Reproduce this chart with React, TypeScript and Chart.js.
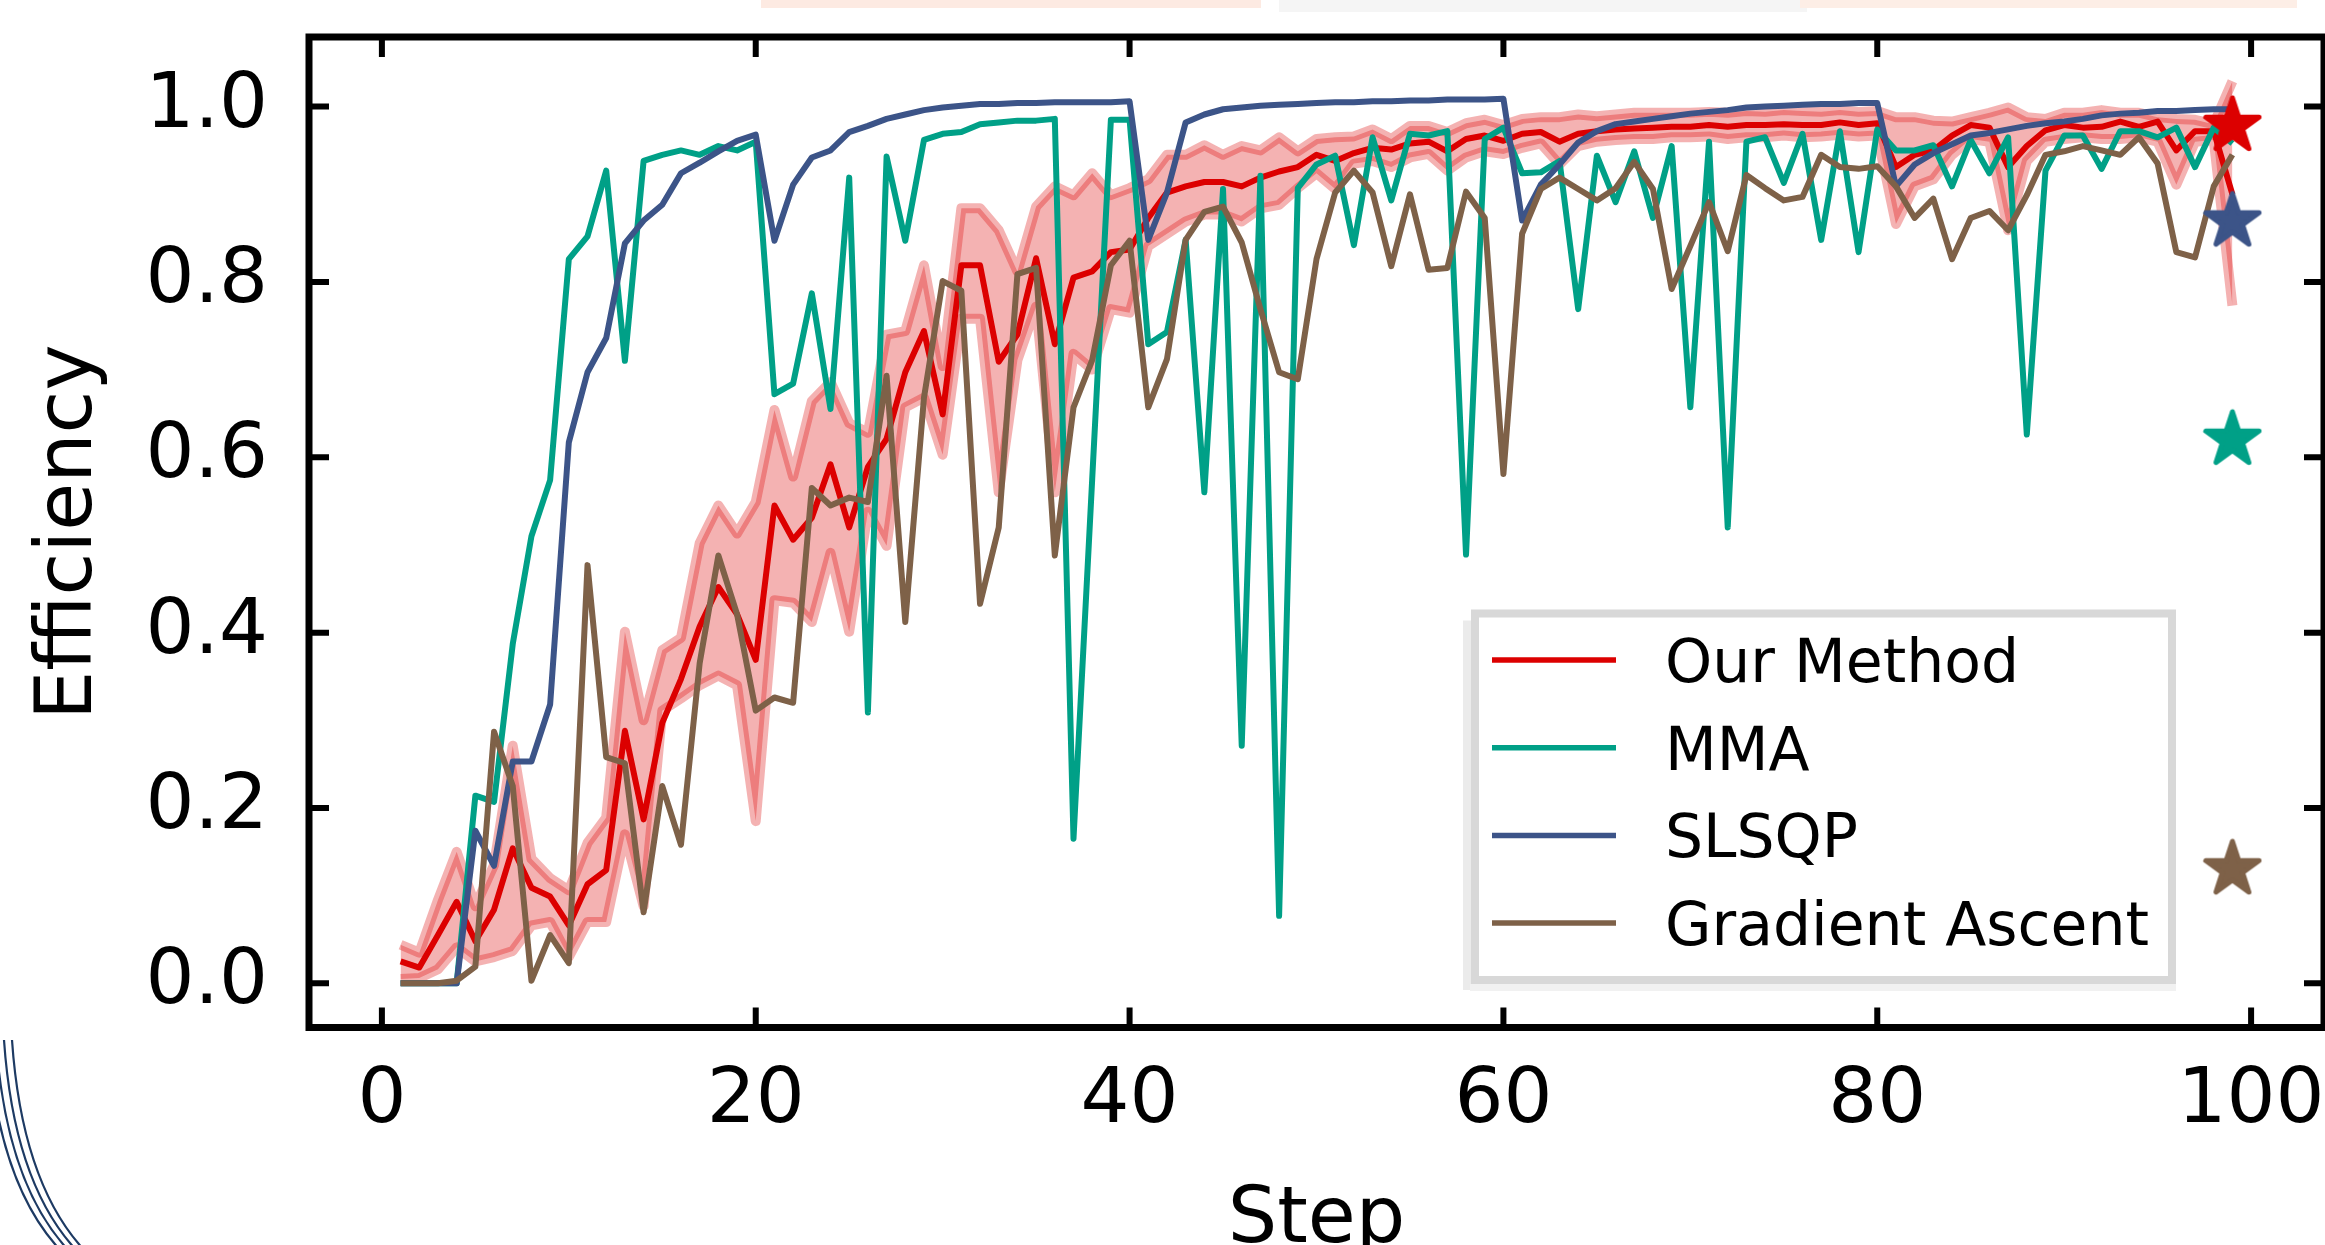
import React, { useEffect, useRef } from 'react';
import { Chart, registerables } from 'chart.js';

Chart.register(...registerables);

// ---------------- data ----------------
const steps = [
  1, 2, 3, 4, 5, 6, 7, 8, 9, 10, 11, 12, 13, 14, 15, 16, 17, 18, 19, 20,
  21, 22, 23, 24, 25, 26, 27, 28, 29, 30, 31, 32, 33, 34, 35, 36, 37, 38, 39, 40,
  41, 42, 43, 44, 45, 46, 47, 48, 49, 50, 51, 52, 53, 54, 55, 56, 57, 58, 59, 60,
  61, 62, 63, 64, 65, 66, 67, 68, 69, 70, 71, 72, 73, 74, 75, 76, 77, 78, 79, 80,
  81, 82, 83, 84, 85, 86, 87, 88, 89, 90, 91, 92, 93, 94, 95, 96, 97, 98, 99,
];

const oursMean = [
  0.025, 0.018, 0.055, 0.093, 0.048, 0.084, 0.154, 0.109, 0.099, 0.066,
  0.113, 0.129, 0.288, 0.187, 0.297, 0.347, 0.407, 0.452, 0.421, 0.369,
  0.545, 0.506, 0.531, 0.592, 0.52, 0.589, 0.621, 0.697, 0.744, 0.649,
  0.819, 0.819, 0.709, 0.74, 0.827, 0.729, 0.805, 0.812, 0.834, 0.837,
  0.873, 0.902, 0.909, 0.914, 0.914, 0.909, 0.919, 0.926, 0.931, 0.945,
  0.938, 0.947, 0.953, 0.951, 0.958, 0.96, 0.949, 0.963, 0.967, 0.961,
  0.969, 0.971, 0.96, 0.969, 0.972, 0.974, 0.975, 0.976, 0.977, 0.977,
  0.979, 0.977, 0.979, 0.979, 0.98, 0.979, 0.979, 0.982, 0.979, 0.981,
  0.931, 0.945, 0.95, 0.967, 0.979, 0.976, 0.931, 0.955, 0.973, 0.979,
  0.976, 0.977, 0.983, 0.977, 0.983, 0.95, 0.972, 0.972, 0.9,
];

const oursUpper = [
  0.044, 0.035, 0.095, 0.15, 0.088, 0.135, 0.271, 0.142, 0.12, 0.106,
  0.16, 0.189, 0.401, 0.3, 0.38, 0.394, 0.502, 0.545, 0.513, 0.549,
  0.654, 0.578, 0.664, 0.686, 0.639, 0.628, 0.74, 0.744, 0.819, 0.704,
  0.884, 0.884, 0.859, 0.812, 0.886, 0.909, 0.899, 0.924, 0.899, 0.907,
  0.917, 0.945, 0.945, 0.956, 0.945, 0.955, 0.95, 0.965, 0.949, 0.963,
  0.965, 0.966, 0.974, 0.963, 0.978, 0.978, 0.971, 0.981, 0.985, 0.979,
  0.986, 0.988, 0.988, 0.991, 0.989, 0.991, 0.993, 0.993, 0.993, 0.993,
  0.994, 0.993, 0.995, 0.994, 0.996, 0.995, 0.994, 0.996, 0.994, 0.995,
  0.988, 0.988, 0.984, 0.983, 0.988, 0.993, 0.999, 0.988, 0.986, 0.993,
  0.993, 0.996, 0.993, 0.993, 0.988, 0.986, 0.985, 0.98, 1.029,
];

const oursLower = [
  0.005, 0.006, 0.016, 0.041, 0.025, 0.03, 0.037, 0.066, 0.07, 0.03,
  0.07, 0.07, 0.17, 0.088, 0.311, 0.325, 0.34, 0.351, 0.34, 0.185,
  0.437, 0.434, 0.412, 0.491, 0.401, 0.538, 0.499, 0.657, 0.668, 0.603,
  0.758, 0.758, 0.56, 0.711, 0.772, 0.56, 0.718, 0.7, 0.769, 0.765,
  0.841, 0.855, 0.869, 0.877, 0.877, 0.869, 0.884, 0.888, 0.907, 0.924,
  0.906, 0.935, 0.938, 0.931, 0.942, 0.946, 0.927, 0.942, 0.949, 0.946,
  0.953, 0.958, 0.934, 0.955, 0.96, 0.962, 0.963, 0.963, 0.965, 0.965,
  0.966, 0.963, 0.965, 0.965, 0.967, 0.965, 0.966, 0.968, 0.966, 0.967,
  0.866, 0.909, 0.917, 0.945, 0.963, 0.96, 0.859, 0.938, 0.96, 0.963,
  0.965, 0.963, 0.963, 0.965, 0.96, 0.911, 0.96, 0.962, 0.773,
];

const mma = [
  0, 0, 0, 0, 0.214, 0.207, 0.387, 0.51, 0.574, 0.826,
  0.852, 0.927, 0.71, 0.938, 0.945, 0.95, 0.945, 0.955, 0.95, 0.96,
  0.672, 0.684, 0.787, 0.655, 0.919, 0.309, 0.943, 0.847, 0.962, 0.969,
  0.971, 0.98, 0.982, 0.984, 0.984, 0.986, 0.165, 0.575, 0.985, 0.985,
  0.729, 0.743, 0.848, 0.56, 0.906, 0.271, 0.921, 0.077, 0.907, 0.934,
  0.944, 0.842, 0.965, 0.893, 0.969, 0.967, 0.972, 0.489, 0.963, 0.976,
  0.924, 0.925, 0.938, 0.769, 0.944, 0.891, 0.949, 0.873, 0.955, 0.657,
  0.96, 0.52, 0.96, 0.965, 0.913, 0.969, 0.848, 0.972, 0.834, 0.974,
  0.95, 0.95, 0.956, 0.909, 0.962, 0.924, 0.965, 0.626, 0.927, 0.967,
  0.967, 0.929, 0.972, 0.972, 0.965, 0.976, 0.931, 0.976, 0.958,
];

const slsqp = [
  0, 0, 0, 0, 0.174, 0.134, 0.253, 0.253, 0.318, 0.617,
  0.697, 0.736, 0.844, 0.87, 0.888, 0.924, 0.936, 0.949, 0.961, 0.968,
  0.847, 0.911, 0.942, 0.95, 0.971, 0.978, 0.986, 0.991, 0.996, 0.999,
  1.001, 1.003, 1.003, 1.004, 1.004, 1.005, 1.005, 1.005, 1.005, 1.006,
  0.848, 0.902, 0.982, 0.991, 0.997, 0.999, 1.001, 1.002, 1.003, 1.004,
  1.005, 1.005, 1.006, 1.006, 1.007, 1.007, 1.008, 1.008, 1.008, 1.009,
  0.87, 0.911, 0.934, 0.959, 0.972, 0.98, 0.983, 0.986, 0.989, 0.992,
  0.994, 0.996, 0.999, 1.0, 1.001, 1.002, 1.003, 1.003, 1.004, 1.004,
  0.909, 0.934, 0.947, 0.957, 0.967, 0.97, 0.974, 0.978, 0.981, 0.983,
  0.986, 0.99, 0.992, 0.993, 0.995, 0.995, 0.996, 0.997, 0.997,
];

const gradAscent = [
  0, 0, 0, 0.003, 0.019, 0.287, 0.225, 0.003, 0.055, 0.023,
  0.477, 0.258, 0.251, 0.081, 0.225, 0.158, 0.365, 0.488, 0.421, 0.311,
  0.326, 0.32, 0.565, 0.545, 0.554, 0.549, 0.693, 0.412, 0.668, 0.801,
  0.79, 0.433, 0.52, 0.809, 0.816, 0.488, 0.657, 0.711, 0.819, 0.847,
  0.657, 0.712, 0.848, 0.88, 0.886, 0.845, 0.769, 0.697, 0.689, 0.826,
  0.902, 0.927, 0.902, 0.818, 0.9, 0.814, 0.816, 0.903, 0.873, 0.581,
  0.855, 0.906, 0.919, 0.906, 0.893, 0.907, 0.937, 0.906, 0.792, 0.841,
  0.891, 0.835, 0.922, 0.907, 0.893, 0.897, 0.945, 0.931, 0.929, 0.932,
  0.909, 0.873, 0.895, 0.826, 0.873, 0.881, 0.859, 0.899, 0.945, 0.949,
  0.955, 0.95, 0.945, 0.965, 0.935, 0.834, 0.828, 0.909, 0.945,
];

// final (star) results
const finalStep = 99;
const finalOurs = 0.978;
const finalMma = 0.62;
const finalSlsqp = 0.869;
const finalGa = 0.13;

const xTicks = [0, 20, 40, 60, 80, 100];
const yTicks = [0, 0.2, 0.4, 0.6, 0.8, 1.0];
const seriesNames = ['Our Method', 'MMA', 'SLSQP', 'Gradient Ascent'];

// ---------------- style ----------------
const RED = '#DC0000';
const TEAL = '#00A087';
const BLUE = '#3C5488';
const BROWN = '#7E6148';
const BAND = 'rgba(220,0,0,0.3)';
const FONT = "'DejaVu Sans', 'Liberation Sans', sans-serif";
const LINE_W = 6;

const toXY = (ys: number[]) => ys.map((y, i) => ({ x: steps[i], y }));

function makeStar(color: string, r: number): HTMLCanvasElement {
  const size = Math.ceil(r * 2 + 10);
  const c = document.createElement('canvas');
  c.width = size;
  c.height = size;
  const g = c.getContext('2d')!;
  const cx = size / 2;
  const cy = size / 2;
  g.beginPath();
  for (let i = 0; i < 10; i++) {
    const ang = -Math.PI / 2 + (i * Math.PI) / 5;
    const rr = i % 2 === 0 ? r : r * 0.381966;
    const px = cx + rr * Math.cos(ang);
    const py = cy + rr * Math.sin(ang);
    if (i === 0) g.moveTo(px, py);
    else g.lineTo(px, py);
  }
  g.closePath();
  g.fillStyle = color;
  g.fill();
  g.lineJoin = 'round';
  g.lineWidth = 5;
  g.strokeStyle = color;
  g.stroke();
  return c;
}

const framePlugin = {
  id: 'mplFrame',
  beforeDraw(chart: any) {
    const ctx = chart.ctx as CanvasRenderingContext2D;
    ctx.save();
    // faint remnants of neighbouring figure at the very top
    ctx.fillStyle = '#fdeae2';
    ctx.fillRect(761, 0, 500, 8);
    ctx.fillStyle = '#f5f5f5';
    ctx.fillRect(1279, 0, 528, 12);
    ctx.fillStyle = '#fdeee6';
    ctx.fillRect(1800, 0, 497, 8);
    // thin navy arcs bottom-left
    ctx.strokeStyle = '#1d3a63';
    ctx.lineWidth = 2.2;
    for (let k = 0; k < 4; k++) {
      const dx = k * 8;
      ctx.beginPath();
      ctx.moveTo(-12 + dx, 1040);
      ctx.quadraticCurveTo(-2 + dx, 1185, 62 + dx, 1252);
      ctx.stroke();
    }
    ctx.restore();
  },
  afterDatasetsDraw(chart: any) {
    const ctx = chart.ctx as CanvasRenderingContext2D;
    const a = chart.chartArea;
    const xs = chart.scales.x;
    const ys = chart.scales.y;
    ctx.save();

    // legend
    const lx1 = a.right - 849;
    const lx2 = a.right - 152;
    const ly1 = a.top + 576.5;
    const ly2 = a.top + 943;
    ctx.fillStyle = '#ebebeb';
    ctx.fillRect(lx1 - 12, ly1 + 7, 8, ly2 - ly1 + 3);
    ctx.fillStyle = '#f1f1f1';
    ctx.fillRect(lx1 - 5, ly2 + 4, lx2 - lx1 + 9, 7);
    ctx.fillStyle = '#ffffff';
    ctx.fillRect(lx1, ly1, lx2 - lx1, ly2 - ly1);
    ctx.strokeStyle = '#d8d8d8';
    ctx.lineWidth = 8;
    ctx.strokeRect(lx1, ly1, lx2 - lx1, ly2 - ly1);

    const colors = [RED, TEAL, BLUE, BROWN];
    const rowY0 = a.top + 623;
    const rowGap = 87.7;
    ctx.font = `60px ${FONT}`;
    ctx.textAlign = 'left';
    ctx.textBaseline = 'alphabetic';
    seriesNames.forEach((name, i) => {
      const y = rowY0 + i * rowGap;
      ctx.strokeStyle = colors[i];
      ctx.lineWidth = 5.5;
      ctx.lineCap = 'butt';
      ctx.beginPath();
      ctx.moveTo(lx1 + 17, y);
      ctx.lineTo(lx1 + 141, y);
      ctx.stroke();
      ctx.fillStyle = '#000';
      ctx.fillText(name, lx1 + 190, y + 22);
    });

    // inward ticks on all four sides
    ctx.strokeStyle = '#000';
    ctx.lineWidth = 6;
    ctx.lineCap = 'butt';
    const TL = 20;
    xTicks.forEach((v) => {
      const px = xs.getPixelForValue(v);
      ctx.beginPath();
      ctx.moveTo(px, a.bottom);
      ctx.lineTo(px, a.bottom - TL);
      ctx.moveTo(px, a.top);
      ctx.lineTo(px, a.top + TL);
      ctx.stroke();
    });
    yTicks.forEach((v) => {
      const py = ys.getPixelForValue(v);
      ctx.beginPath();
      ctx.moveTo(a.left, py);
      ctx.lineTo(a.left + TL, py);
      ctx.moveTo(a.right, py);
      ctx.lineTo(a.right - TL, py);
      ctx.stroke();
    });

    // spines
    ctx.lineWidth = 7;
    ctx.lineJoin = 'miter';
    ctx.strokeRect(a.left, a.top, a.right - a.left, a.bottom - a.top);
    ctx.restore();
  },
};

export default function App() {
  const canvasRef = useRef<HTMLCanvasElement | null>(null);

  useEffect(() => {
    const canvas = canvasRef.current;
    if (!canvas) return;

    const starR = 28;
    const lineCommon = {
      pointRadius: 0,
      borderWidth: LINE_W,
      borderJoinStyle: 'round' as const,
      borderCapStyle: 'butt' as const,
      tension: 0,
      fill: false,
    };

    const starDs = (label: string, value: number, color: string, order: number) => ({
      label,
      data: [{ x: finalStep, y: value }],
      showLine: false,
      pointStyle: makeStar(color, starR),
      pointRadius: 20,
      pointHoverRadius: 20,
      borderWidth: 0,
      order,
    });

    const chart = new Chart(canvas, {
      type: 'line',
      data: {
        datasets: [
          {
            label: 'band upper',
            data: toXY(oursUpper),
            pointRadius: 0,
            borderWidth: 10,
            borderColor: BAND,
            backgroundColor: BAND,
            borderJoinStyle: 'round',
            tension: 0,
            fill: '+1',
            order: 20,
          },
          {
            label: 'band lower',
            data: toXY(oursLower),
            pointRadius: 0,
            borderWidth: 10,
            borderColor: BAND,
            backgroundColor: BAND,
            borderJoinStyle: 'round',
            tension: 0,
            fill: false,
            order: 19,
          },
          { ...lineCommon, label: seriesNames[0], data: toXY(oursMean), borderColor: RED, order: 15 },
          { ...lineCommon, label: seriesNames[1], data: toXY(mma), borderColor: TEAL, order: 14 },
          { ...lineCommon, label: seriesNames[2], data: toXY(slsqp), borderColor: BLUE, order: 13 },
          { ...lineCommon, label: seriesNames[3], data: toXY(gradAscent), borderColor: BROWN, order: 12 },
          starDs('final GA', finalGa, BROWN, 4),
          starDs('final MMA', finalMma, TEAL, 3),
          starDs('final SLSQP', finalSlsqp, BLUE, 2),
          starDs('final ours', finalOurs, RED, 1),
        ] as any,
      },
      options: {
        responsive: false,
        maintainAspectRatio: false,
        devicePixelRatio: 1,
        animation: false,
        events: [],
        layout: { autoPadding: false, padding: { left: 0, top: 37, right: 1, bottom: 0 } },
        plugins: {
          legend: { display: false },
          tooltip: { enabled: false },
        },
        scales: {
          x: {
            type: 'linear',
            min: -3.9,
            max: 103.9,
            grid: { display: false, drawTicks: false },
            border: { display: false },
            ticks: {
              includeBounds: false,
              autoSkip: false,
              maxRotation: 0,
              padding: 28,
              color: '#000',
              font: { family: FONT, size: 77, lineHeight: 1.2 },
              callback: (v: any) => String(v),
            },
            afterBuildTicks: (s: any) => {
              s.ticks = xTicks.map((v) => ({ value: v }));
            },
            afterFit: (s: any) => {
              s.height = 217.5;
              s.paddingLeft = 0;
              s.paddingRight = 0;
            },
            title: {
              display: true,
              text: 'Step',
              color: '#000',
              font: { family: FONT, size: 78, lineHeight: 0.6 },
              padding: { top: 0, bottom: 0 },
            },
          },
          y: {
            type: 'linear',
            min: -0.0504,
            max: 1.0794,
            grid: { display: false, drawTicks: false },
            border: { display: false },
            ticks: {
              includeBounds: false,
              autoSkip: false,
              padding: 41,
              color: '#000',
              font: { family: FONT, size: 77, lineHeight: 1.2 },
              callback: (v: any) => Number(v).toFixed(1),
            },
            afterBuildTicks: (s: any) => {
              s.ticks = yTicks.map((v) => ({ value: v }));
            },
            afterFit: (s: any) => {
              s.width = 309;
              s.paddingTop = 0;
              s.paddingBottom = 0;
            },
            title: {
              display: true,
              text: 'Efficiency',
              color: '#000',
              font: { family: FONT, size: 78, lineHeight: 1 },
              padding: { top: 32, bottom: 0 },
            },
          },
        },
      },
      plugins: [framePlugin],
    });

    return () => {
      chart.destroy();
    };
  }, []);

  return (
    <div style={{ position: 'fixed', left: 0, top: 0, width: 2325, height: 1245, background: '#fff' }}>
      <canvas ref={canvasRef} width={2325} height={1245} style={{ display: 'block', width: 2325, height: 1245 }} />
    </div>
  );
}
